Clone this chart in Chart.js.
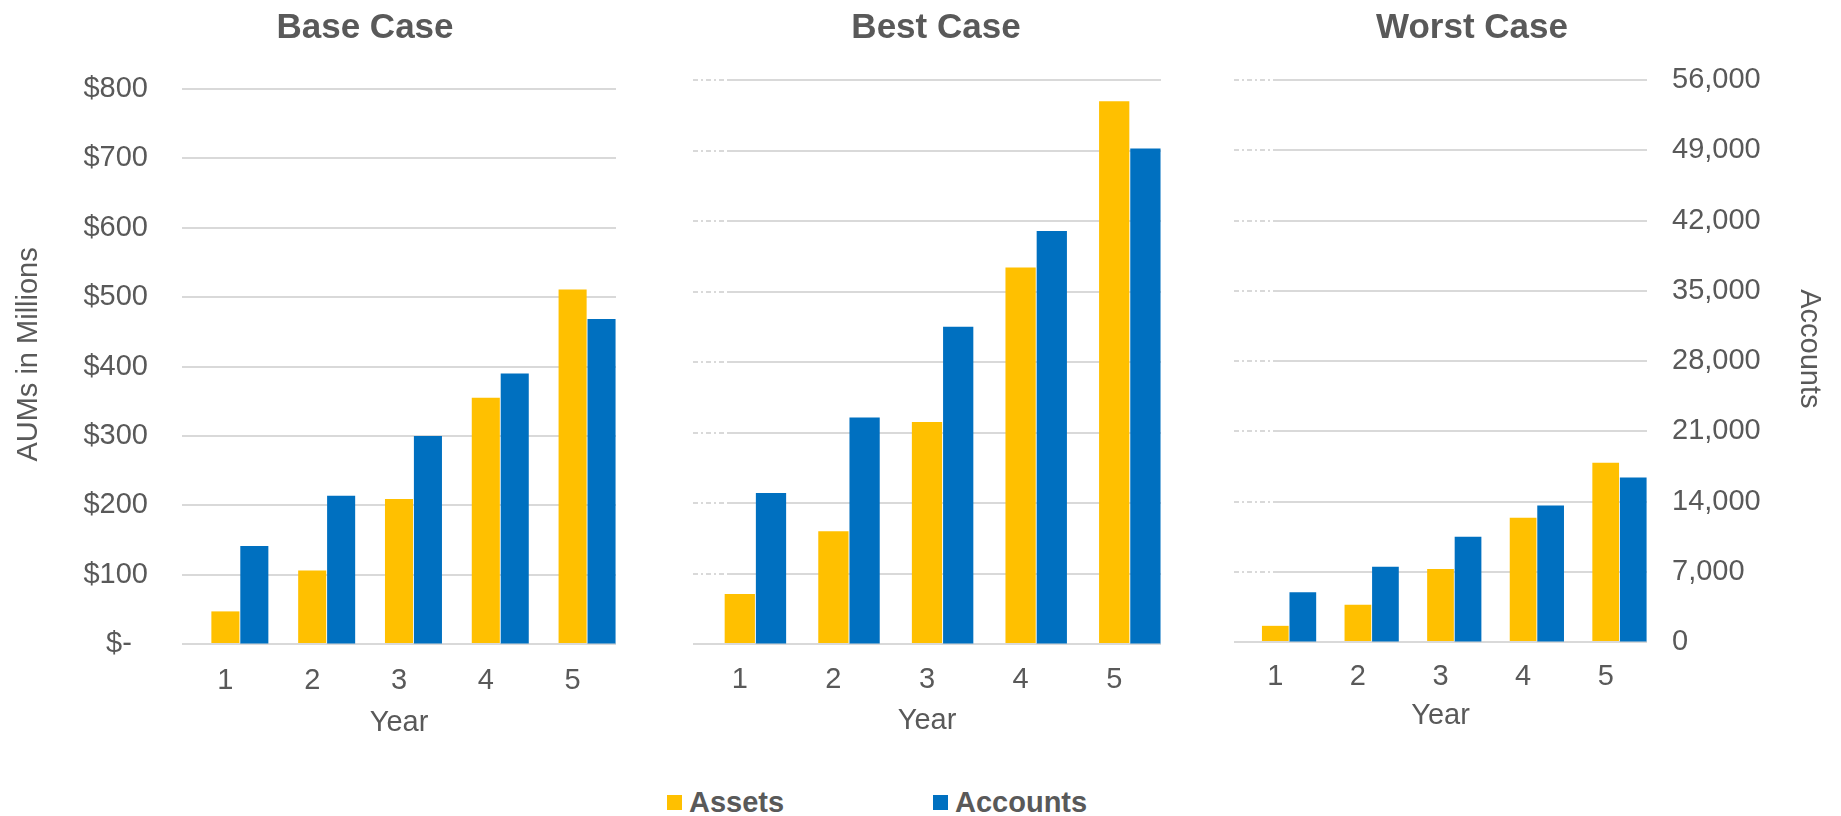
<!DOCTYPE html>
<html>
<head>
<meta charset="utf-8">
<script src="https://cdn.jsdelivr.net/npm/chart.js@4.4.1/dist/chart.umd.min.js"></script>
<style>
    html, body { margin: 0; padding: 0; background: #fff; }
    body { width: 1841px; height: 816px; position: relative; overflow: hidden; font-family: 'Liberation Sans', Arial, sans-serif; }
    canvas { position: absolute; top: 0; }
    #base { left: 0; }
    #best { left: 650px; }
    #worst { left: 1103px; }
    .legend-item { position: absolute; top: 785px; display: flex; align-items: center; font-size: 29px; line-height: 34px; font-weight: bold; color: #595959; }
    .legend-item .box { display: inline-block; width: 15px; height: 15px; margin-right: 7px; }
</style>
</head>
<body>
<canvas id="base" width="730" height="760"></canvas>
<canvas id="best" width="572" height="760"></canvas>
<canvas id="worst" width="738" height="760"></canvas>
<div id="legend"></div>

<script>
const years = ['1', '2', '3', '4', '5'];

const baseAssets = [47, 106, 209, 355, 511];
const baseAccounts = [9900, 14950, 21000, 27300, 32800];

const bestAssets = [71, 160, 315, 534, 770];
const bestAccounts = [15000, 22500, 31500, 41000, 49200];

const worstAssets = [23, 53, 104, 177, 255];
const worstAccounts = [4950, 7500, 10500, 13600, 16400];

// empty series that takes the slot left of the Assets bar (keeps Assets centred on the year)
const spacer = [null, null, null, null, null];

const assetMax = 800, assetStep = 100;
const accountMax = 56000, accountStep = 7000;

const YELLOW = '#FFC000';
const BLUE = '#0070C0';
const TEXT = '#595959';
const GRID = '#D9D9D9';
const FONT = "'Liberation Sans', Arial, sans-serif";

Chart.defaults.font.family = FONT;
Chart.defaults.color = TEXT;

// hidden white axis labels break up the left end of the gridlines in the source
const gridStubPlugin = {
    id: 'gridStub',
    beforeDatasetsDraw(chart, args, opts) {
        if (!opts.length) return;
        const y = chart.scales.y;
        const left = chart.chartArea.left;
        const ctx = chart.ctx;
        ctx.save();
        y.ticks.forEach(t => {
            if (t.value === 0) return;
            const py = Math.round(y.getPixelForValue(t.value));
            ctx.fillStyle = '#fff';
            ctx.fillRect(left, py - 2, opts.length, 4);
            ctx.beginPath();
            ctx.setLineDash([5, 3, 2, 3]);
            ctx.strokeStyle = GRID;
            ctx.lineWidth = 2;
            ctx.moveTo(left, py);
            ctx.lineTo(left + opts.length, py);
            ctx.stroke();
        });
        ctx.restore();
    }
};

function makeChart(id, title, assets, accounts, o) {
    return new Chart(document.getElementById(id), {
        type: 'bar',
        data: {
            labels: years,
            datasets: [
                { label: '', data: spacer, yAxisID: 'y' },
                { label: 'Assets', data: assets, backgroundColor: YELLOW, yAxisID: 'y' },
                { label: 'Accounts', data: accounts, backgroundColor: BLUE, yAxisID: 'y1' }
            ]
        },
        options: {
            responsive: false,
            animation: false,
            datasets: {
                bar: { categoryPercentage: 1, barPercentage: 0.97 }
            },
            layout: { padding: 0 },
            plugins: {
                legend: { display: false },
                tooltip: { enabled: false },
                title: {
                    display: true,
                    text: title,
                    color: TEXT,
                    font: { size: 35, weight: 'bold' },
                    padding: { top: 7, bottom: o.titleGap }
                },
                gridStub: { length: o.stub }
            },
            scales: {
                x: {
                    grid: { display: false },
                    border: { display: false },
                    ticks: { color: TEXT, font: { size: 29 }, padding: o.tickPad, maxRotation: 0 },
                    title: { display: true, text: 'Year', color: TEXT, font: { size: 29 }, padding: { top: 0, bottom: o.yearGap } },
                    afterFit: s => { s.height = 760 - o.bottom; }
                },
                y: {
                    min: 0,
                    max: assetMax,
                    grid: { color: GRID, lineWidth: 2, drawTicks: false },
                    border: { display: false },
                    ticks: {
                        display: o.leftLabels,
                        stepSize: assetStep,
                        color: TEXT,
                        font: { size: 29 },
                        padding: 34,
                        callback: v => v === 0 ? '$-  ' : '$' + v
                    },
                    title: { display: o.leftLabels, text: '   AUMs in Millions', color: TEXT, font: { size: 29 }, padding: { top: 12, bottom: 0 } },
                    afterFit: s => { s.width = o.leftWidth; }
                },
                y1: {
                    position: 'right',
                    min: 0,
                    max: accountMax,
                    grid: { drawOnChartArea: false, drawTicks: false },
                    border: { display: false },
                    ticks: {
                        display: o.rightLabels,
                        stepSize: accountStep,
                        color: TEXT,
                        font: { size: 29 },
                        padding: 25,
                        callback: v => v.toLocaleString('en-US')
                    },
                    title: { display: o.rightLabels, text: 'Accounts   ', color: TEXT, font: { size: 29 }, padding: { top: 15, bottom: 0 } },
                    afterFit: s => { s.width = o.rightWidth; }
                }
            }
        },
        plugins: [gridStubPlugin]
    });
}

document.addEventListener('DOMContentLoaded', function () {
    makeChart('base', 'Base Case', baseAssets, baseAccounts, {
        leftLabels: true, rightLabels: false, leftWidth: 182, rightWidth: 114,
        titleGap: 40, bottom: 644, tickPad: 12, yearGap: 20, stub: 0
    });
    makeChart('best', 'Best Case', bestAssets, bestAccounts, {
        leftLabels: false, rightLabels: false, leftWidth: 43, rightWidth: 61,
        titleGap: 31, bottom: 644, tickPad: 11, yearGap: 22, stub: 34
    });
    makeChart('worst', 'Worst Case', worstAssets, worstAccounts, {
        leftLabels: false, rightLabels: true, leftWidth: 131, rightWidth: 194,
        titleGap: 31, bottom: 642, tickPad: 10, yearGap: 27, stub: 40
    });

    // legend below the three panels
    const legend = document.getElementById('legend');
    [['Assets', YELLOW, 667], ['Accounts', BLUE, 933]].forEach(([name, color, left]) => {
        const item = document.createElement('div');
        item.className = 'legend-item';
        item.style.left = left + 'px';
        item.innerHTML = `<span class="box" style="background:${color}"></span>${name}`;
        legend.appendChild(item);
    });
});
</script>
</body>
</html>
